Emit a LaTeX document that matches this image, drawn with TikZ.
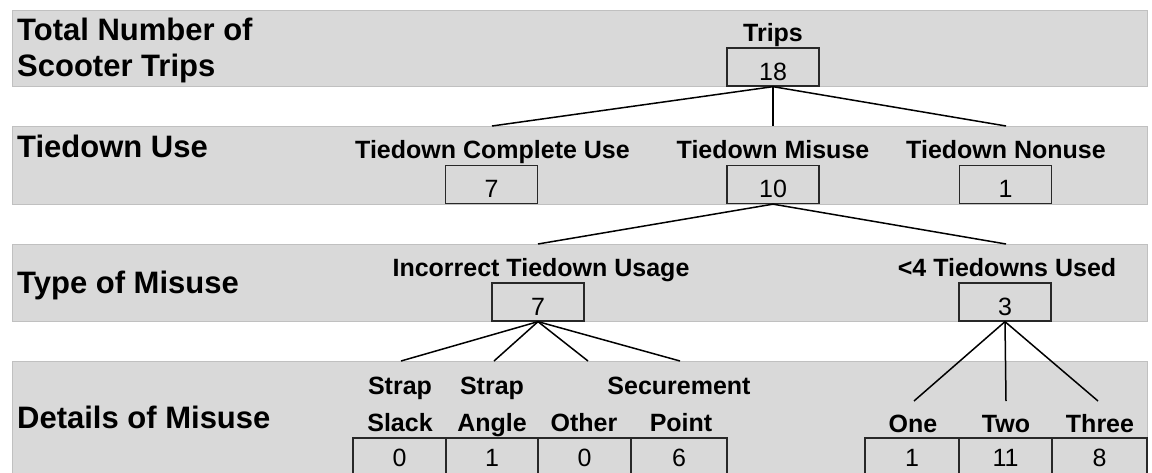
\documentclass[tikz,border=0pt]{standalone}
\usepackage{fontspec}
\setmainfont{Liberation Sans}
\definecolor{bandgray}{RGB}{217,217,217}
\definecolor{bandedge}{RGB}{192,192,192}
\definecolor{boxedge}{RGB}{40,40,40}
\begin{document}
\begin{tikzpicture}[x=1pt,y=-1pt,
  band/.style={fill=bandgray, draw=bandedge, line width=0.8pt},
  head/.style={anchor=base west, inner sep=0pt, font=\fontsize{31}{36}\selectfont\bfseries},
  lab/.style={anchor=base, inner sep=0pt, font=\fontsize{25}{30}\selectfont\bfseries},
  box/.style={draw=boxedge, line width=1.3pt, minimum width=92pt, minimum height=38pt, inner sep=0pt, text height=26pt, text depth=0pt, font=\fontsize{25}{30}\selectfont},
  cell/.style={draw=boxedge, line width=1.3pt, minimum height=40pt, inner sep=0pt},
  num/.style={anchor=base, inner sep=0pt, font=\fontsize{25}{30}\selectfont},
  conn/.style={line width=1.5pt, black}
]
\useasboundingbox (0,0) rectangle (1152,472);
\clip (0,0) rectangle (1152,472);
\fill[white] (0,0) rectangle (1152,472);

% bands
\draw[band] (12,10) rectangle (1147,86);
\draw[band] (12,126) rectangle (1147,204);
\draw[band] (12,244) rectangle (1147,321);
\draw[band] (12,361) rectangle (1147,480);

% row headings
\node[head] (h1a) at (17,40) {Total Number of};
\node[head] (h1b) at (17,76) {Scooter Trips};
\node[head] (h2) at (17,157) {Tiedown Use};
\node[head] (h3) at (17,293) {Type of Misuse};
\node[head] (h4) at (17,428) {Details of Misuse};

% level 0
\node[lab] (lTrips) at (773,41) {Trips};
\node[box] (b18) at (773,67) {18};

% level 1
\node[lab] (lComp) at (492.5,158) {Tiedown Complete Use};
\node[lab] (lMis) at (773,158) {Tiedown Misuse};
\node[lab] (lNon) at (1006,158) {Tiedown Nonuse};
\node[box] (bComp) at (491.5,184.5) {7};
\node[box] (bMis) at (773,184.5) {10};
\node[box] (bNon) at (1005.5,184.5) {1};

\coordinate (cComp) at (492,126);
\coordinate (cMis) at (773,126);
\coordinate (cNon) at (1006,126);
\draw[conn] (b18.south) -- (cComp);
\draw[conn] (b18.south) -- (cMis);
\draw[conn] (b18.south) -- (cNon);

% level 2
\node[lab] (lInc) at (541,276) {Incorrect Tiedown Usage};
\node[lab] (lFour) at (1007,276) {<4 Tiedowns Used};
\node[box] (bInc) at (538,302) {7};
\node[box] (bFour) at (1005,302) {3};

\coordinate (cInc) at (538,244);
\coordinate (cFour) at (1006,244);
\draw[conn] (bMis.south) -- (cInc);
\draw[conn] (bMis.south) -- (cFour);

% level 3 left
\node[lab] (lS1a) at (400,394) {Strap};
\node[lab] (lS1b) at (400,431) {Slack};
\node[lab] (lS2a) at (492,394) {Strap};
\node[lab] (lS2b) at (492,431) {Angle};
\node[lab] (lOth) at (584,431) {Other};
\node[lab] (lSPa) at (679,394) {Securement};
\node[lab] (lSPb) at (681,431) {Point};
\node[cell, minimum width=93pt] (dSlack) at (399.5,458) {};
\node[cell, minimum width=92pt] (dAngle) at (492,458) {};
\node[cell, minimum width=93pt] (dOther) at (584.5,458) {};
\node[cell, minimum width=96pt] (dPoint) at (679,458) {};
\node[num] (nSlack) at (399.5,466) {0};
\node[num] (nAngle) at (492,466) {1};
\node[num] (nOther) at (584.5,466) {0};
\node[num] (nPoint) at (679,466) {6};

\coordinate (cSlack) at (401,361);
\coordinate (cAngle) at (494,361);
\coordinate (cOther) at (588,361);
\coordinate (cPoint) at (680,361);
\draw[conn] (bInc.south) -- (cSlack);
\draw[conn] (bInc.south) -- (cAngle);
\draw[conn] (bInc.south) -- (cOther);
\draw[conn] (bInc.south) -- (cPoint);

% level 3 right
\node[lab] (lOne) at (913,432) {One};
\node[lab] (lTwo) at (1006,432) {Two};
\node[lab] (lThree) at (1100,432) {Three};
\node[cell, minimum width=94pt] (dOne) at (912,458) {};
\node[cell, minimum width=93pt] (dTwo) at (1005.5,458) {};
\node[cell, minimum width=95pt] (dThree) at (1099.5,458) {};
\node[num] (nOne) at (912,466) {1};
\node[num] (nTwo) at (1005.5,466) {11};
\node[num] (nThree) at (1099.5,466) {8};

\coordinate (cOne) at (914,401);
\coordinate (cTwo) at (1006,401);
\coordinate (cThree) at (1098,401);
\draw[conn] (bFour.south) -- (cOne);
\draw[conn] (bFour.south) -- (cTwo);
\draw[conn] (bFour.south) -- (cThree);
\end{tikzpicture}
\end{document}
